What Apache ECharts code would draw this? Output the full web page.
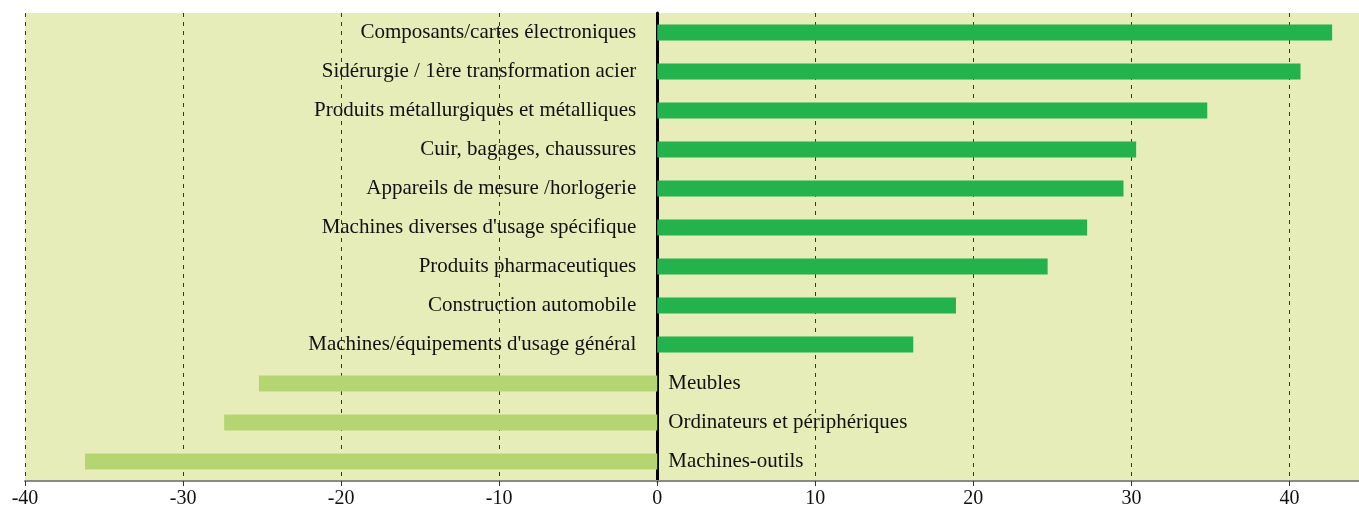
<!DOCTYPE html>
<html>
<head>
<meta charset="utf-8">
<script src="https://cdn.jsdelivr.net/npm/echarts@6/dist/echarts.min.js"></script>
<style>
  html, body { margin: 0; padding: 0; background: #fff; }
  #chart { width: 1359px; height: 509px; }
</style>
</head>
<body>
<div id="chart"></div>
<script>
  // secteurs, du haut vers le bas
  var categories = [
    'Composants/cartes électroniques',
    'Sidérurgie / 1ère transformation acier',
    'Produits métallurgiques et métalliques',
    'Cuir, bagages, chaussures',
    'Appareils de mesure /horlogerie',
    "Machines diverses d'usage spécifique",
    'Produits pharmaceutiques',
    'Construction automobile',
    "Machines/équipements d'usage général",
    'Meubles',
    'Ordinateurs et périphériques',
    'Machines-outils'
  ];
  var values = [42.7, 40.7, 34.8, 30.3, 29.5, 27.2, 24.7, 18.9, 16.2, -25.2, -27.4, -36.2];
  var xTicks = [-40, -30, -20, -10, 0, 10, 20, 30, 40];

  var font = '"Liberation Serif", "DejaVu Serif", serif';

  var chart = echarts.init(document.getElementById('chart'));

  var seriesData = values.map(function (v) {
    return {
      value: v,
      itemStyle: { color: v >= 0 ? '#24b24d' : '#b5d572' },
      label: v >= 0
        ? { position: 'left', distance: 21 }
        : { position: 'right', distance: 11 }
    };
  });

  chart.setOption({
    animation: false,
    grid: {
      left: 25,
      right: 0,
      top: 13,
      bottom: 28,
      show: true,
      backgroundColor: '#e6edb8',
      borderWidth: 0
    },
    xAxis: {
      type: 'value',
      min: xTicks[0],
      max: 44.4,
      interval: 10,
      axisLine: { show: true, onZero: false, lineStyle: { color: '#8a8a80', width: 2 } },
      axisTick: { show: true, length: 5, lineStyle: { color: '#333' } },
      axisLabel: {
        color: '#111',
        fontFamily: font,
        fontSize: 20,
        margin: 8,
        showMaxLabel: false,
        formatter: function (v) { return xTicks.indexOf(v) >= 0 ? String(v) : ''; }
      },
      splitLine: { show: true, lineStyle: { color: '#333', type: [4, 5], width: 1 } }
    },
    yAxis: {
      type: 'category',
      data: categories,
      inverse: true,
      axisLine: { show: true, onZero: true, lineStyle: { color: '#000', width: 3 } },
      axisTick: { show: false },
      axisLabel: { show: false },
      splitLine: { show: false }
    },
    series: [{
      type: 'bar',
      data: seriesData,
      barWidth: 16,
      label: {
        show: true,
        color: '#111',
        fontFamily: font,
        fontSize: 21,
        formatter: function (p) { return categories[p.dataIndex]; }
      }
    }]
  });
</script>
</body>
</html>
